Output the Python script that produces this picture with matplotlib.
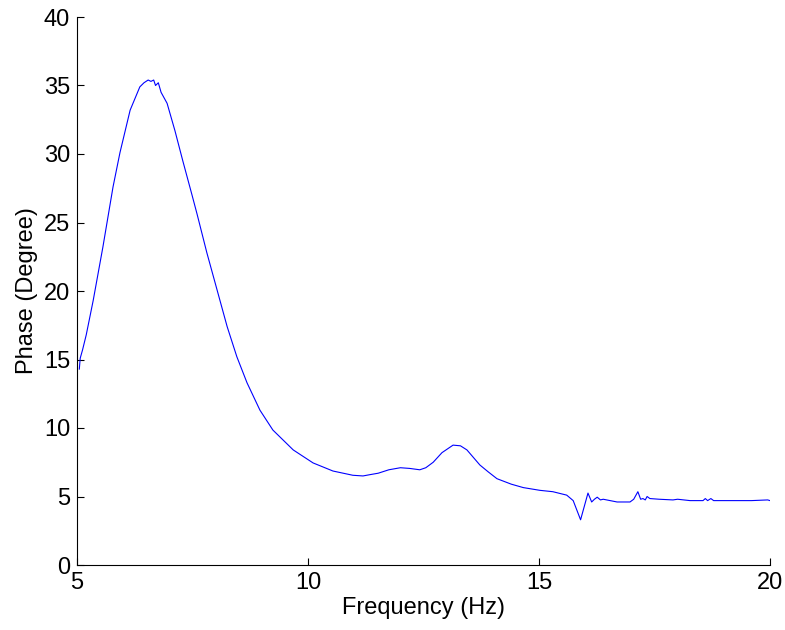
import matplotlib
matplotlib.use("Agg")
from matplotlib import pyplot as plt

plt.rcParams["font.family"] = ["Liberation Sans", "DejaVu Sans"]

# frequency (Hz) and phase (degree)
freq = [5.05, 5.07, 5.12, 5.2, 5.35, 5.56, 5.78, 5.93, 6.15, 6.36, 6.45, 6.54,
        6.6, 6.66, 6.7, 6.76, 6.82, 6.95, 7.12, 7.29, 7.49, 7.6, 7.81, 8.03,
        8.25, 8.46, 8.68, 8.96, 9.24, 9.68, 10.11, 10.54, 10.97, 11.19, 11.35,
        11.52, 11.75, 12.0, 12.2, 12.42, 12.55, 12.71, 12.9, 13.14, 13.3,
        13.44, 13.72, 13.9, 14.09, 14.4, 14.66, 15.02, 15.3, 15.6, 15.74,
        15.9, 16.06, 16.14, 16.2, 16.26, 16.33, 16.39, 16.69, 16.97, 17.05,
        17.14, 17.2, 17.25, 17.3, 17.34, 17.4, 17.6, 17.9, 18.0, 18.27, 18.55,
        18.6, 18.65, 18.72, 18.78, 18.85, 19.2, 19.6, 19.95, 20.0]
phase = [14.3, 15.1, 15.7, 16.8, 19.3, 23.2, 27.6, 30.1, 33.2, 34.9, 35.2, 35.4,
         35.3, 35.4, 35.0, 35.2, 34.5, 33.7, 31.7, 29.5, 27.0, 25.6, 22.8, 20.1,
         17.4, 15.2, 13.3, 11.3, 9.85, 8.4, 7.45, 6.86, 6.55, 6.5, 6.6,
         6.7, 6.95, 7.1, 7.05, 6.95, 7.1, 7.5, 8.2, 8.75, 8.7,
         8.4, 7.3, 6.8, 6.3, 5.9, 5.65, 5.45, 5.35, 5.1, 4.7,
         3.3, 5.25, 4.6, 4.8, 4.95, 4.75, 4.8, 4.6, 4.6, 4.8,
         5.35, 4.8, 4.85, 4.75, 5.0, 4.85, 4.8, 4.75, 4.8, 4.7, 4.7,
         4.85, 4.7, 4.85, 4.7, 4.7, 4.7, 4.7, 4.75, 4.7]

x_ticks = [5, 10, 15, 20]
y_ticks = [0, 5, 10, 15, 20, 25, 30, 35, 40]

fig = plt.figure(figsize=(7.85, 6.3), dpi=100)
ax = fig.add_axes([77 / 785, 65 / 630, 693 / 785, 548 / 630])
ax.plot(freq, phase, color=(0, 0, 1), linewidth=0.8)

ax.set_xlim(5, 20)
ax.set_ylim(0, 40)
ax.set_xticks(x_ticks)
ax.set_yticks(y_ticks)
ax.spines["top"].set_visible(False)
ax.spines["right"].set_visible(False)
ax.tick_params(direction="in", length=5, labelsize=17, pad=5)
ax.set_xlabel("Frequency (Hz)", fontsize=17, labelpad=2)
ax.set_ylabel("Phase (Degree)", fontsize=17, labelpad=4)

fig.savefig("out.png", dpi=100)
